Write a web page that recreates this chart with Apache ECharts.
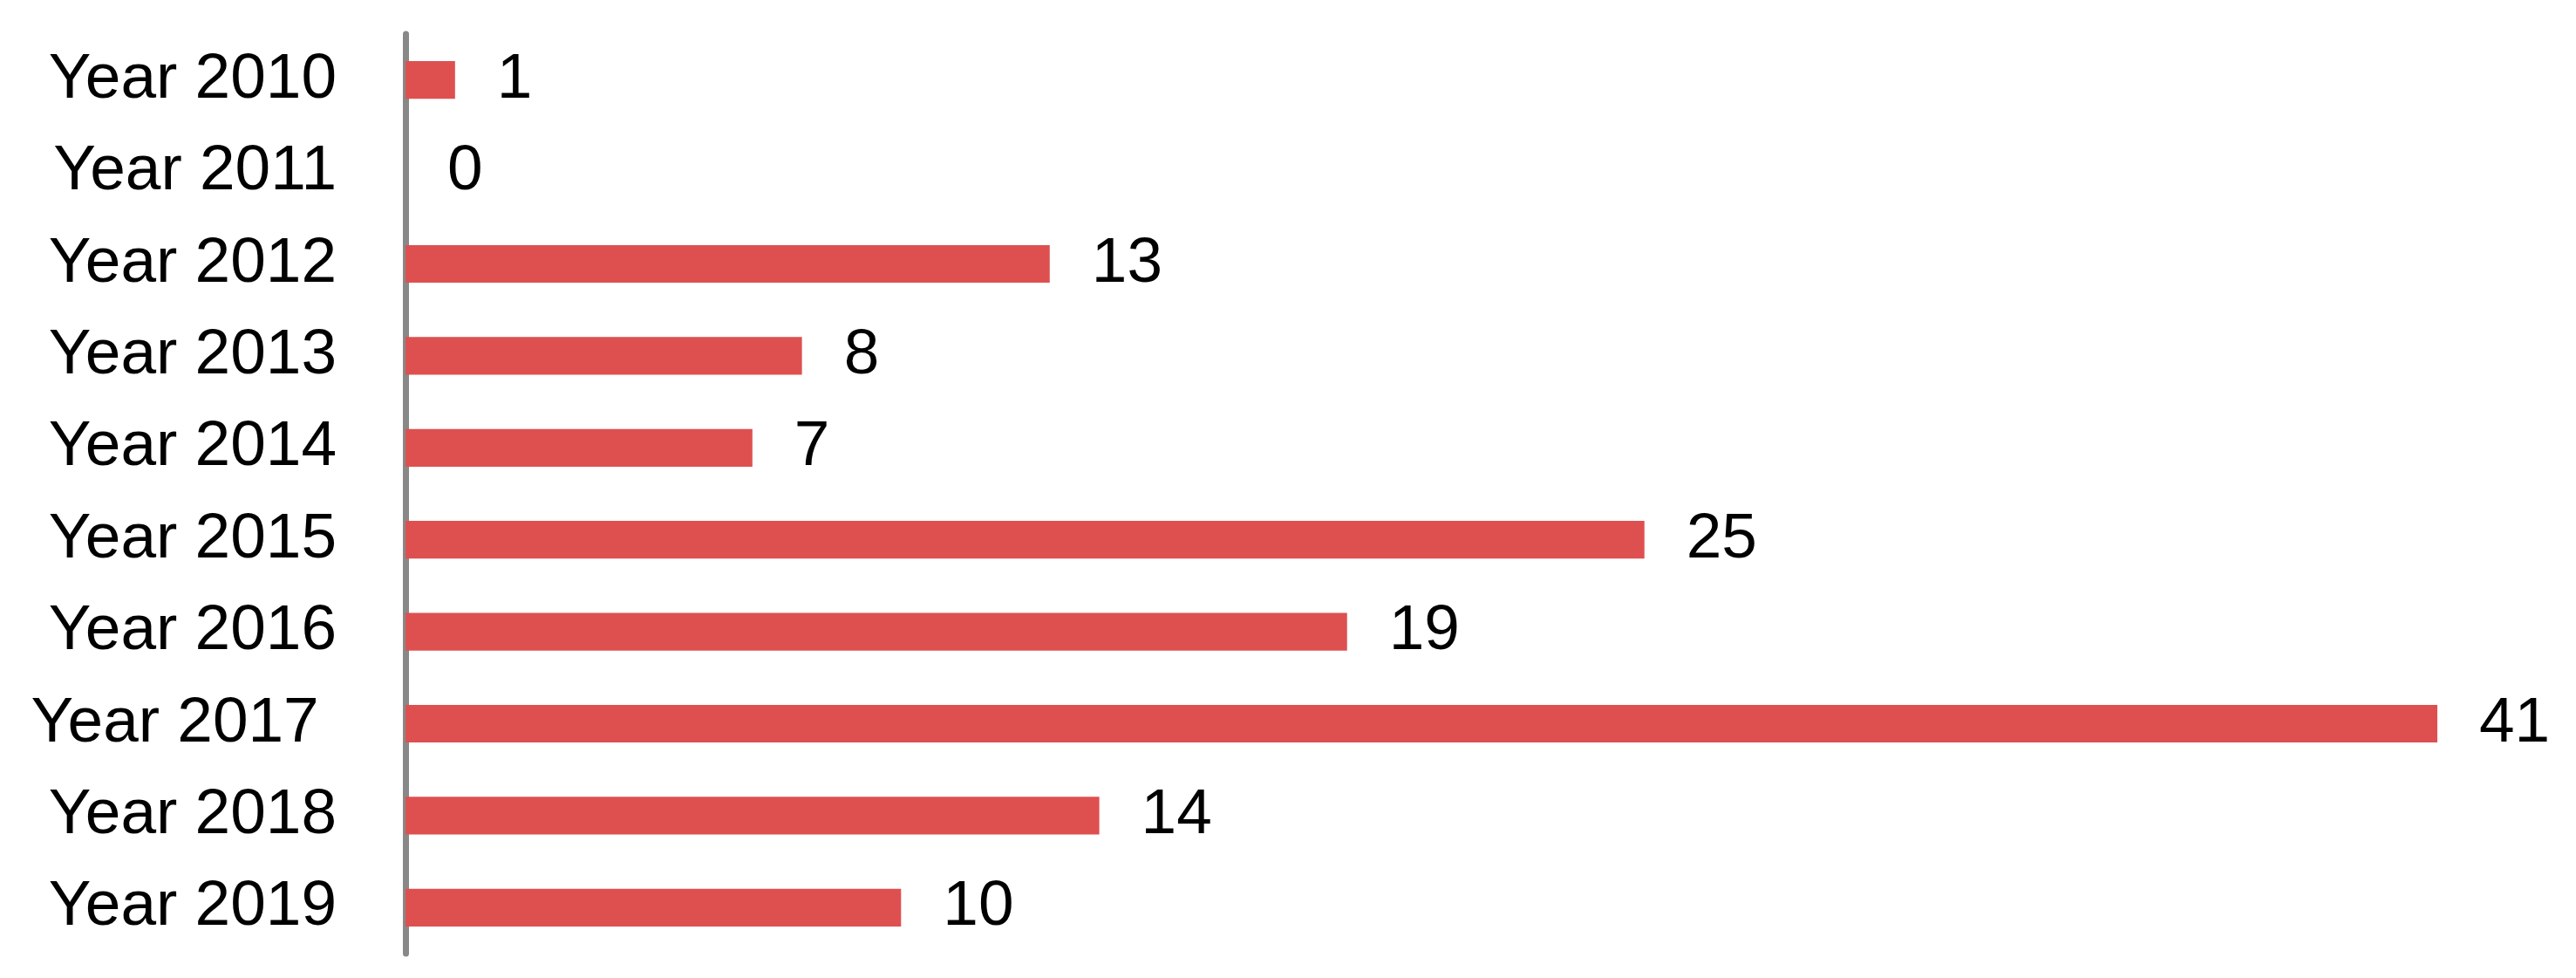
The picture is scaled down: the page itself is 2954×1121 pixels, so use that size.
<!DOCTYPE html>
<html>
<head>
<meta charset="utf-8">
<script src="https://cdn.jsdelivr.net/npm/echarts@6/dist/echarts.min.js"></script>
<style>
  html, body { margin: 0; padding: 0; background: #fff; }
  #chart { width: 2954px; height: 1121px; }
</style>
</head>
<body>
<div id="chart"></div>
<script>
// categories top to bottom
var years = ["Year 2010", "Year 2011", "Year 2012", "Year 2013", "Year 2014",
             "Year 2015", "Year 2016", "Year 2017 ", "Year 2018", "Year 2019"];
var counts = [1, 0, 13, 8, 7, 25, 19, 41, 14, 10];

var fontName = "'Liberation Sans', Arial, sans-serif";

var chart = echarts.init(document.getElementById("chart"));
chart.setOption({
  animation: false,
  grid: {
    left: 465,
    right: 159,
    top: 39,
    bottom: 28,
    containLabel: false,
    outerBoundsMode: "none"
  },
  xAxis: {
    type: "value",
    min: 0,
    max: function (v) { return v.max; },
    show: false
  },
  yAxis: {
    type: "category",
    inverse: true, // 2010 at the top
    data: years,
    axisLine: { show: true, lineStyle: { color: "#888888", width: 7 } },
    axisTick: { show: false },
    splitLine: { show: false },
    axisLabel: {
      margin: 79,
      color: "#000",
      fontSize: 73,
      fontFamily: fontName
    }
  },
  series: [
    {
      type: "bar",
      data: counts,
      barCategoryGap: "59%",
      itemStyle: { color: "#de5050" },
      label: {
        show: true,
        position: "right",
        distance: 48,
        color: "#000",
        fontSize: 73,
        fontFamily: fontName
      }
    }
  ]
});
</script>
</body>
</html>
